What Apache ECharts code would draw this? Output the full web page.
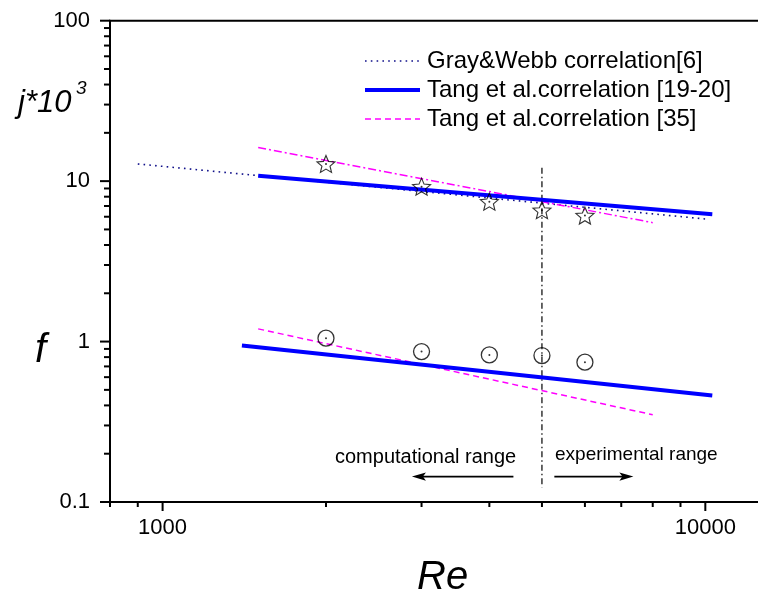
<!DOCTYPE html>
<html>
<head>
<meta charset="utf-8">
<script src="https://cdn.jsdelivr.net/npm/echarts@6/dist/echarts.min.js"></script>
<style>
  html, body { margin: 0; padding: 0; background: #fff; }
  #chart { width: 758px; height: 599px; }
</style>
</head>
<body>
<div id="chart"></div>
<script>
// Measured points: j*10^3 (stars) and f (circles) against Re
const reData = [2000, 3000, 4000, 5000, 6000];
const jData = [12.8, 9.24, 7.45, 6.59, 6.10];
const fData = [1.05, 0.866, 0.826, 0.818, 0.744];

// Correlations (straight lines on log-log axes, given by their end points)
const grayWebbRe = [900, 10100];
const grayWebbJ = [12.8, 5.79];
const tangJRe = [1500, 10300];
const tangJ = [10.8, 6.22];
const tangFRe = [1400, 10300];
const tangF = [0.944, 0.461];
const tang35Re = [1500, 8000];
const tang35J = [16.2, 5.51];
const tang35F = [1.2, 0.35];

// Boundary between the computational and experimental ranges
const boundaryRe = [5000, 5000];
const boundaryY = [12.1, 0.123];
// Range arrows: [tail Re, level, head Re]
const arrowComp = [4430, 0.144, 2880];
const arrowExp = [5270, 0.144, 7370];

// Axes
const xRange = [800, 20000];
const yRange = [0.1, 100];
const xMajor = [1000, 10000];
const xMinor = [800, 900, 2000, 3000, 4000, 5000, 6000, 7000, 8000, 9000];
const yMajor = [0.1, 1, 10, 100];
const yDecades = [0.1, 1, 10];
const yMinorSteps = [2, 3, 4, 5, 6, 7, 8, 9];

const legendNames = [
  'Gray&Webb correlation[6]',
  'Tang et al.correlation [19-20]',
  'Tang et al.correlation [35]'
];

const NAVY = '#10108a', BLUE = '#0000ff', MAGENTA = '#ff00ff';
const FONT = '"Liberation Sans", Arial, Helvetica, sans-serif';
const pts = (xs, ys) => xs.map((x, i) => [x, ys[i]]);

const xTicks = xMajor.map(v => [v, yRange[0], 1]).concat(xMinor.map(v => [v, yRange[0], 0]));
const yMinor = [];
yDecades.forEach(d => yMinorSteps.forEach(s => yMinor.push(+(d * s).toPrecision(3))));
const yTicks = yMajor.map(v => [xRange[0], v, 1]).concat(yMinor.map(v => [xRange[0], v, 0]));

function isPow10(v) {
  const l = Math.log10(v);
  return Math.abs(l - Math.round(l)) < 1e-6;
}

const STAR = 'path://M50,0 L63.2,31.8 L97.6,34.5 L71.4,57 L79.4,90.5 L50,72.5 L20.6,90.5 L28.6,57 L2.4,34.5 L36.8,31.8 Z';

function xTickItem(params, api) {
  const p = api.coord([api.value(0), api.value(1)]);
  const len = api.value(2) ? 9 : 5;
  return { type: 'line', shape: { x1: p[0], y1: p[1], x2: p[0], y2: p[1] + len },
           style: { stroke: '#000', lineWidth: 2 } };
}
function yTickItem(params, api) {
  const p = api.coord([api.value(0), api.value(1)]);
  const len = api.value(2) ? 10 : 6;
  return { type: 'line', shape: { x1: p[0], y1: p[1], x2: p[0] - len, y2: p[1] },
           style: { stroke: '#000', lineWidth: 2 } };
}
function arrowItem(params, api) {
  const y = api.value(1);
  const a = api.coord([api.value(0), y]);
  const b = api.coord([api.value(2), y]);
  const dir = Math.sign(b[0] - a[0]);
  const headLen = 14, half = 4.2;
  return { type: 'group', children: [
    { type: 'line', shape: { x1: a[0], y1: a[1], x2: b[0] - dir * 8, y2: b[1] },
      style: { stroke: '#000', lineWidth: 1.6 } },
    { type: 'polygon', shape: { points: [
        [b[0], b[1]], [b[0] - dir * headLen, b[1] - half],
        [b[0] - dir * (headLen - 3), b[1]], [b[0] - dir * headLen, b[1] + half]] },
      style: { fill: '#000' } }
  ] };
}

const chart = echarts.init(document.getElementById('chart'), null, { renderer: 'canvas' });

chart.setOption({
  animation: false,
  backgroundColor: '#fff',
  textStyle: { fontFamily: FONT, color: '#000' },
  grid: {
    left: 110, top: 20.7, right: -110.7, bottom: 97,
    outerBoundsMode: 'none',
    containLabel: false,
    show: true, borderColor: '#000', borderWidth: 2, backgroundColor: 'transparent'
  },
  legend: {
    show: true,
    orient: 'vertical',
    left: 363, top: 49, padding: 0,
    itemWidth: 55, itemHeight: 14, itemGap: 5,
    itemStyle: { opacity: 0 },
    data: [
      { name: legendNames[0], itemStyle: { opacity: 0 },
        lineStyle: { color: NAVY, width: 1.6, type: [1.6, 4.2] } },
      { name: legendNames[1], itemStyle: { opacity: 0 },
        lineStyle: { color: BLUE, width: 4 } },
      { name: legendNames[2], itemStyle: { opacity: 0 },
        lineStyle: { color: MAGENTA, width: 1.5, type: [6, 4] } }
    ],
    textStyle: { fontFamily: FONT, fontSize: 24, lineHeight: 24, color: '#000', padding: [0, 0, 0, 2] },
    selectedMode: false
  },
  xAxis: {
    type: 'log', logBase: 10, min: xRange[0], max: xRange[1],
    axisLine: { show: true, onZero: false, lineStyle: { color: '#000', width: 2 } },
    axisTick: { show: false },
    minorTick: { show: false },
    splitLine: { show: false },
    axisLabel: {
      interval: 0, hideOverlap: false, margin: 15,
      fontFamily: FONT, fontSize: 22, color: '#000',
      showMinLabel: true, showMaxLabel: true,
      formatter: v => isPow10(v) ? String(Math.round(v)) : ''
    }
  },
  yAxis: {
    type: 'log', logBase: 10, min: yRange[0], max: yRange[1],
    axisLine: { show: true, onZero: false, lineStyle: { color: '#000', width: 2 } },
    axisTick: { show: false },
    minorTick: { show: false },
    splitLine: { show: false },
    axisLabel: {
      interval: 0, hideOverlap: false, margin: 20,
      fontFamily: FONT, fontSize: 22, color: '#000',
      formatter: v => isPow10(v) ? String(+Number(v).toPrecision(3)) : ''
    }
  },
  series: [
    {
      name: legendNames[0], type: 'line', data: pts(grayWebbRe, grayWebbJ),
      symbol: 'none', z: 3,
      lineStyle: { color: NAVY, width: 1.6, type: [1.6, 4.2] },
      itemStyle: { color: NAVY }
    },
    {
      name: legendNames[1], type: 'line', data: pts(tangJRe, tangJ),
      symbol: 'none', z: 4,
      lineStyle: { color: BLUE, width: 4 }, itemStyle: { color: BLUE }
    },
    {
      name: 'Tang f [19-20]', type: 'line', data: pts(tangFRe, tangF),
      symbol: 'none', z: 4,
      lineStyle: { color: BLUE, width: 4 }, itemStyle: { color: BLUE }
    },
    {
      name: legendNames[2], type: 'line', data: pts(tang35Re, tang35F),
      symbol: 'none', z: 3,
      lineStyle: { color: MAGENTA, width: 1.5, type: [6, 4] }, itemStyle: { color: MAGENTA }
    },
    {
      name: 'Tang j [35]', type: 'line', data: pts(tang35Re, tang35J),
      symbol: 'none', z: 3,
      lineStyle: { color: MAGENTA, width: 1.5, type: [8, 3, 2, 3] }, itemStyle: { color: MAGENTA }
    },
    {
      name: 'boundary', type: 'line', data: pts(boundaryRe, boundaryY),
      symbol: 'none', z: 2,
      lineStyle: { color: '#000', width: 1.2, type: [6, 3, 1.5, 3] }
    },
    {
      name: 'j data', type: 'scatter', data: pts(reData, jData), z: 6,
      symbol: STAR, symbolSize: [18, 17],
      itemStyle: { color: 'rgba(255,255,255,0)', borderColor: '#000', borderWidth: 1.1 }
    },
    {
      name: 'f data', type: 'scatter', data: pts(reData, fData), z: 6,
      symbol: 'circle', symbolSize: 16,
      itemStyle: { color: 'rgba(255,255,255,0)', borderColor: '#000', borderWidth: 1.3 }
    },
    {
      name: 'centres', type: 'scatter', z: 7,
      data: pts(reData, jData).concat(pts(reData, fData)),
      symbol: 'circle', symbolSize: 2, itemStyle: { color: '#000' }
    },
    {
      name: 'arrows', type: 'custom', data: [arrowComp, arrowExp], clip: false, z: 5,
      encode: { x: [0, 2], y: 1 }, renderItem: arrowItem
    },
    {
      name: 'x ticks', type: 'custom', data: xTicks, clip: false, z: 10,
      encode: { x: 0, y: 1 }, renderItem: xTickItem
    },
    {
      name: 'y ticks', type: 'custom', data: yTicks, clip: false, z: 10,
      encode: { x: 0, y: 1 }, renderItem: yTickItem
    }
  ],
  graphic: [
    { type: 'text', left: 18, top: 88, z: 20,
      style: { text: 'j*10', font: 'italic 31px ' + FONT, fill: '#000' } },
    { type: 'text', left: 76, top: 79, z: 20,
      style: { text: '3', font: 'italic 19px ' + FONT, fill: '#000' } },
    { type: 'text', left: 35, top: 331, z: 20,
      style: { text: 'f', font: 'italic 40px ' + FONT, fill: '#000' } },
    { type: 'text', left: 417, top: 558, z: 20,
      style: { text: 'Re', font: 'italic 40px ' + FONT, fill: '#000' } },
    { type: 'text', left: 335, top: 447, z: 20,
      style: { text: 'computational range', font: '20px ' + FONT, fill: '#000' } },
    { type: 'text', left: 555, top: 445, z: 20,
      style: { text: 'experimental range', font: '19px ' + FONT, fill: '#000' } }
  ]
});
</script>
</body>
</html>
